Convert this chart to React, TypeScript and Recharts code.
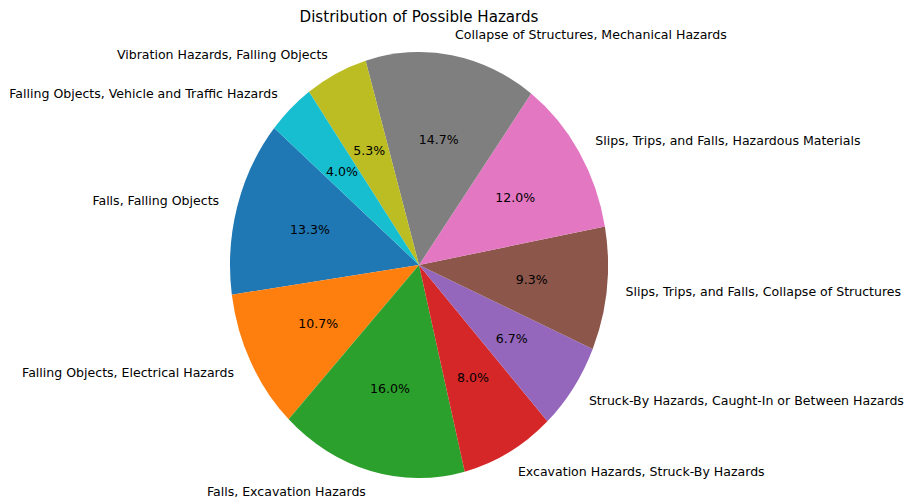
import React from "react";
import { PieChart, Pie, Cell } from "recharts";

// Hazard categories and their counts (75 sites in total)
const categories = [
  "Falls, Falling Objects",
  "Falling Objects, Electrical Hazards",
  "Falls, Excavation Hazards",
  "Excavation Hazards, Struck-By Hazards",
  "Struck-By Hazards, Caught-In or Between Hazards",
  "Slips, Trips, and Falls, Collapse of Structures",
  "Slips, Trips, and Falls, Hazardous Materials",
  "Collapse of Structures, Mechanical Hazards",
  "Vibration Hazards, Falling Objects",
  "Falling Objects, Vehicle and Traffic Hazards",
];
const counts = [10, 8, 12, 6, 5, 7, 9, 11, 4, 3];
const colors = [
  "#1f77b4",
  "#ff7f0e",
  "#2ca02c",
  "#d62728",
  "#9467bd",
  "#8c564b",
  "#e377c2",
  "#7f7f7f",
  "#bcbd22",
  "#17becf",
];
const title = "Distribution of Possible Hazards";

const total = counts.reduce((a, b) => a + b, 0);
const data = categories.map((name, i) => ({ name, value: counts[i] }));

const W = 905;
const H = 500;
const CX = 419;
const CY = 265;
const RX = 189;
const RY = 213;
const FONT = "DejaVu Sans, sans-serif";
const LABEL_SIZE = 12.55;
const TITLE_SIZE = 15.1;
const RAD = Math.PI / 180;

// Name labels sit outside the rim, percentages inside each wedge
const renderLabel = (props: any) => {
  const { midAngle, value, index } = props;
  const c = Math.cos(midAngle * RAD);
  const s = Math.sin(midAngle * RAD);
  const lx = CX + 1.1 * RX * c;
  const ly = CY - 1.1 * RY * s;
  const px = CX + 0.6 * RX * c;
  const py = CY - 0.6 * RY * s;
  return (
    <g key={`lbl-${index}`}>
      <text
        x={lx}
        y={ly}
        textAnchor={c >= 0 ? "start" : "end"}
        dominantBaseline="central"
        fontFamily={FONT}
        fontSize={LABEL_SIZE}
        fill="#000"
      >
        {data[index].name}
      </text>
      <text
        x={px}
        y={py}
        textAnchor="middle"
        dominantBaseline="central"
        fontFamily={FONT}
        fontSize={LABEL_SIZE}
        fill="#000"
      >
        {((value / total) * 100).toFixed(1) + "%"}
      </text>
    </g>
  );
};

export default function App() {
  return (
    <div
      style={{
        position: "absolute",
        left: 0,
        top: 0,
        width: W,
        height: H,
        background: "#fff",
      }}
    >
      {/* wedges, stretched vertically into an ellipse */}
      <div
        style={{
          position: "absolute",
          left: 0,
          top: 0,
          width: W,
          height: H,
          transform: `scaleY(${RY / RX})`,
          transformOrigin: `${CX}px ${CY}px`,
        }}
      >
        <PieChart width={W} height={H} margin={{ top: 0, right: 0, bottom: 0, left: 0 }}>
          <Pie
            data={data}
            dataKey="value"
            nameKey="name"
            cx={CX}
            cy={CY}
            outerRadius={RX}
            startAngle={140}
            endAngle={500}
            stroke="none"
            label={false}
            labelLine={false}
            isAnimationActive={false}
          >
            {data.map((d, i) => (
              <Cell key={d.name} fill={colors[i]} />
            ))}
          </Pie>
        </PieChart>
      </div>
      {/* text layer */}
      <div style={{ position: "absolute", left: 0, top: 0, width: W, height: H }}>
        <PieChart width={W} height={H} margin={{ top: 0, right: 0, bottom: 0, left: 0 }}>
          <Pie
            data={data}
            dataKey="value"
            nameKey="name"
            cx={CX}
            cy={CY}
            outerRadius={RX}
            startAngle={140}
            endAngle={500}
            fill="none"
            stroke="none"
            label={renderLabel}
            labelLine={false}
            isAnimationActive={false}
          />
        </PieChart>
      </div>
      <svg
        width={W}
        height={40}
        style={{ position: "absolute", left: 0, top: 0 }}
      >
        <text
          x={CX}
          y={17}
          textAnchor="middle"
          dominantBaseline="central"
          fontFamily={FONT}
          fontSize={TITLE_SIZE}
          fill="#000"
        >
          {title}
        </text>
      </svg>
    </div>
  );
}
